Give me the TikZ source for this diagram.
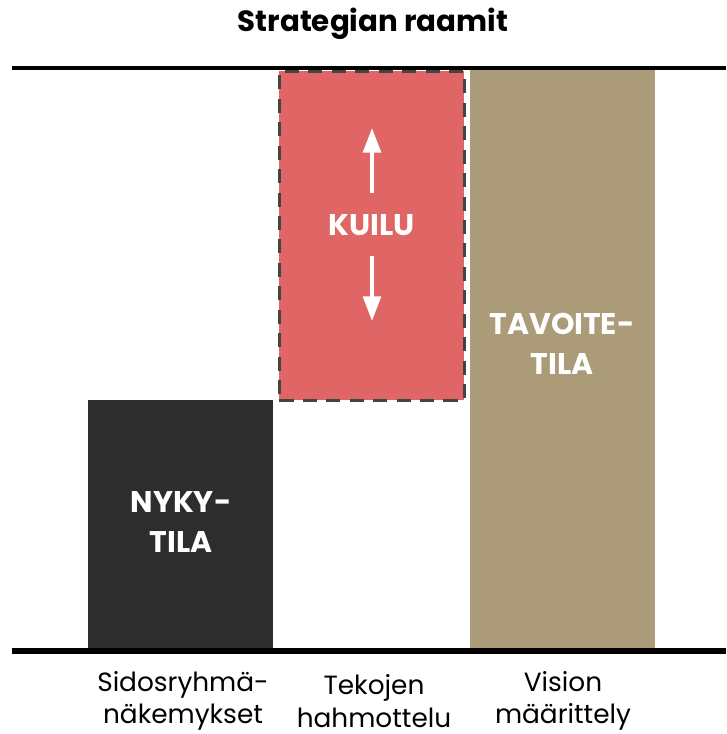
\documentclass[tikz,border=0pt]{standalone}
\usepackage{fontspec}
\setmainfont{Poppins}
\usepackage{tikz}
\usetikzlibrary{positioning, arrows.meta}

\definecolor{nykycol}{HTML}{2D2D2D}
\definecolor{kuilucol}{HTML}{E06666}
\definecolor{tavoitecol}{HTML}{AB9B78}
\definecolor{dashcol}{HTML}{444444}

\begin{document}
\begin{tikzpicture}[x=0.03cm, y=-0.03cm,
    bigtext/.style={text=white, font=\bfseries\fontsize{25.5}{34}\selectfont, align=center},
    steplabel/.style={font=\fontsize{22.5}{27.5}\selectfont, align=center, inner sep=0pt},
    stagebox/.style={anchor=north west, inner sep=0pt, minimum width=5.55cm}]
    \useasboundingbox (0,0) rectangle (726,734);
    \node [font=\bfseries\fontsize{25}{30}\selectfont] (title) at (373,24) {Strategian raamit};  % title

    % the three stages
    \node [stagebox, fill=nykycol, minimum height=7.44cm] (nyky) at (88,400) {};
    \node [stagebox, fill=kuilucol, minimum height=9.87cm, draw=dashcol, line width=2.5pt,
           dash pattern=on 12pt off 8pt] (kuilu) at (278,70) {};
    \node [stagebox, fill=tavoitecol, minimum height=17.34cm] (tavoite) at (470,70) {};

    \draw [line width=3.5pt] (12,68) -- (726,68);      % upper frame line
    \draw [line width=5pt] (12,651) -- (726,651);      % lower frame line

    \node [bigtext] (nykytxt) at (181,522) {NYKY-\\TILA};
    \node [bigtext] (kuilutxt) at (372,225) {KUILU};
    \node [bigtext] (tavoitetxt) at (562,344) {TAVOITE-\\TILA};

    % gap arrows
    \coordinate (upend) at (372,128);
    \coordinate (downend) at (372,321);
    \draw [white, line width=3.4pt, -{Triangle[width=15pt, length=21pt]}] (372,193) -- (upend);
    \draw [white, line width=3.4pt, -{Triangle[width=15pt, length=21pt]}] (372,256) -- (downend);

    \node [steplabel] (sidos) at (183,701) {Sidosryhmä-\\näkemykset};
    \node [steplabel] (tekojen) at (374,701) {Tekojen\\hahmottelu};
    \node [steplabel] (vision) at (563,701) {Vision\\määrittely};
\end{tikzpicture}
\end{document}
